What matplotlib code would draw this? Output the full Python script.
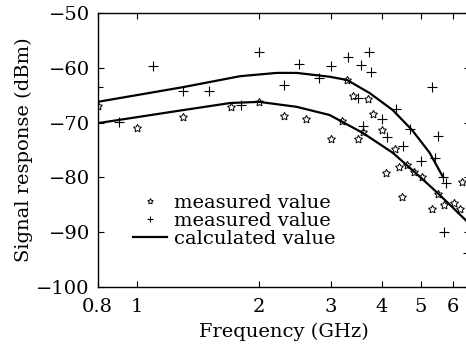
import numpy as np
import matplotlib
matplotlib.use('Agg')
import matplotlib.pyplot as plt

plt.rcParams['font.family'] = ['DejaVu Serif']
plt.rcParams['mathtext.fontset'] = 'dejavuserif'

# 测量值（星号）
star_freq = [0.8, 1.0, 1.30, 1.705, 2.0, 2.30, 2.606, 3.0, 3.195, 3.287, 3.40, 3.498,
             3.597, 3.70, 3.808, 4.006, 4.31, 4.098, 4.41, 4.615, 4.80, 5.02, 4.486,
             5.50, 5.315, 5.689, 6.02, 6.23, 6.30]
star_db = [-66.9, -71.0, -69.0, -67.1, -66.2, -68.8, -69.3, -73.0, -69.7, -62.2, -65.1, -73.0,
           -71.7, -65.7, -68.4, -71.3, -74.8, -79.2, -78.1, -77.7, -79.0, -79.9, -83.6,
           -83.0, -85.8, -85.0, -84.7, -85.8, -80.8]

# 测量值（加号）
plus_freq = [0.8, 0.905, 1.097, 1.30, 1.505, 1.804, 1.998, 2.30, 2.505, 2.805, 3.0, 3.305,
             3.557, 3.722, 3.764, 3.498, 3.597, 4.006, 4.121, 4.336, 4.512, 4.693, 4.994,
             5.315, 5.408, 5.501, 5.656, 5.754, 5.689, 6.52]
plus_db = [-63.5, -69.9, -59.6, -64.2, -64.2, -66.8, -57.1, -63.1, -59.3, -61.8, -59.6, -58.0,
           -59.5, -57.1, -60.7, -65.5, -70.6, -69.3, -72.6, -67.5, -74.3, -71.2, -77.0,
           -63.5, -76.5, -72.4, -79.9, -81.0, -90.0, -93.8]

# 计算值
upper_freq = [0.8, 1.30, 1.795, 2.21, 2.47, 2.98, 3.29, 3.74, 4.26, 4.76, 5.25, 5.66]
upper_db = [-66.2, -63.5, -61.5, -60.9, -60.9, -61.6, -62.2, -64.6, -67.7, -71.4, -75.5, -79.9]
lower_freq = [0.8, 1.30, 1.70, 2.0, 2.47, 2.98, 3.60, 4.26, 4.97, 5.50, 6.0, 6.6]
lower_db = [-70.1, -67.7, -66.4, -66.2, -67.1, -68.6, -71.9, -75.5, -79.9, -82.9, -85.6, -88.6]

xticks = [0.8, 1, 2, 3, 4, 5, 6]
xticklabels = ['0.8', '1', '2', '3', '4', '5', '6']
yticks = [-100, -90, -80, -70, -60, -50]

fs = 14

fig = plt.figure(figsize=(4.66, 3.5), dpi=100)
ax = fig.add_axes([97.5 / 466, 1 - 286.7 / 350, (470 - 97.5) / 466, 273.4 / 350])

ax.plot(star_freq, star_db, linestyle='none', marker=(5, 1, 0), markersize=6,
        markerfacecolor='none', markeredgecolor='black', markeredgewidth=0.7,
        label='measured value')
ax.plot(plus_freq, plus_db, linestyle='none', marker='+', markersize=6.5,
        color='black', markeredgewidth=0.8, label='measured value')
ax.plot(upper_freq, upper_db, color='black', lw=1.6, label='calculated value')
ax.plot(lower_freq, lower_db, color='black', lw=1.6)

ax.set_xscale('log')
ax.set_xlim(0.8, 6.6)
ax.set_ylim(-100, -50)
ax.xaxis.set_major_locator(matplotlib.ticker.FixedLocator(xticks))
ax.xaxis.set_minor_locator(matplotlib.ticker.NullLocator())
ax.set_xticklabels(xticklabels)
ax.set_yticks(yticks)
ax.tick_params(direction='in', length=4, width=0.8, top=True, right=True,
               labelsize=fs)
ax.tick_params(axis='x', pad=8)
ax.tick_params(axis='y', pad=5.5)
for s in ax.spines.values():
    s.set_linewidth(1.0)

ax.set_xlabel('Frequency (GHz)', fontsize=fs, labelpad=5)
ax.set_ylabel('Signal response (dBm)', fontsize=fs)
ax.yaxis.set_label_coords(-0.173, 0.5)

ax.legend(loc='lower left', bbox_to_anchor=(0.068, 0.107), frameon=False, fontsize=fs,
          handlelength=1.75, handletextpad=0.36, labelspacing=0.0, borderpad=0,
          markerscale=0.7)

fig.savefig('out.png', dpi=100)
